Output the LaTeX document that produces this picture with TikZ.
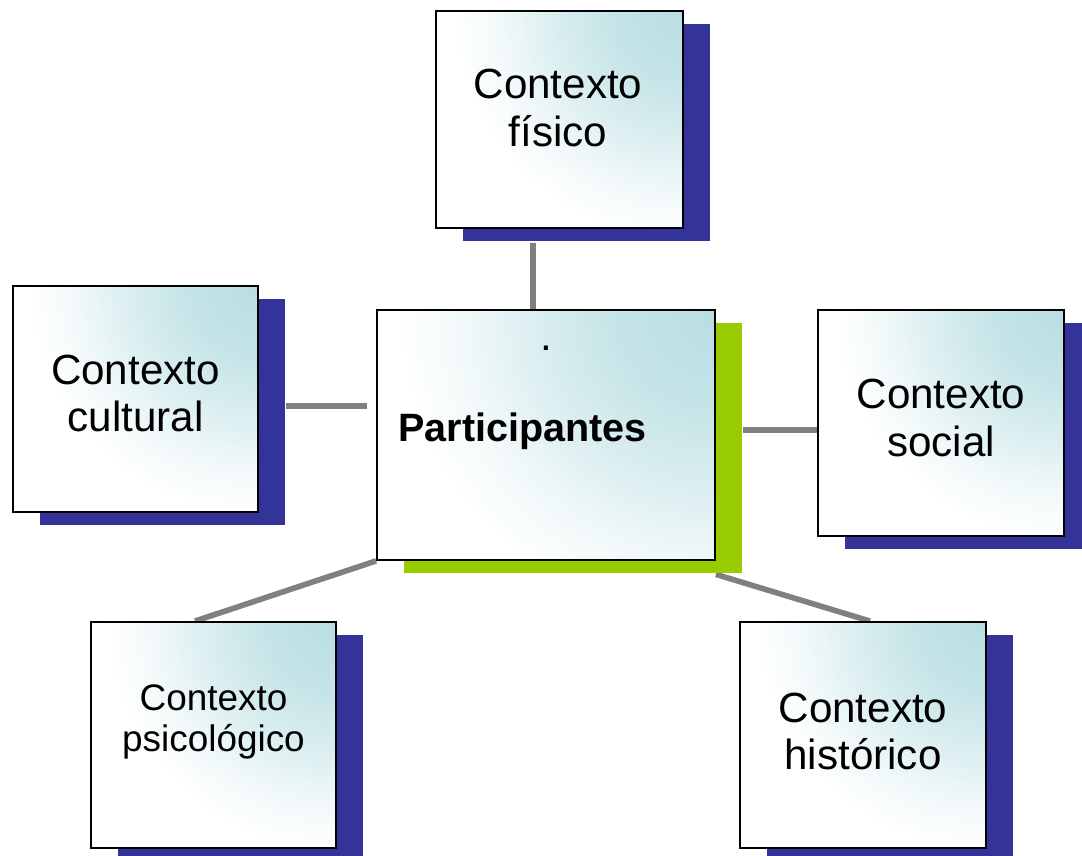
\documentclass[tikz,border=0pt]{standalone}
\usepackage{fontspec}
\setmainfont{Liberation Sans}
\usetikzlibrary{shadows,backgrounds}
\definecolor{boxcyan}{RGB}{184,222,226}
\definecolor{shadeblue}{RGB}{51,51,153}
\definecolor{shadegreen}{RGB}{153,204,0}
\definecolor{linkgray}{RGB}{128,128,128}
\pgfdeclareradialshading{ctxfade}{\pgfpoint{0bp}{0bp}}{color(0bp)=(boxcyan); color(4bp)=(boxcyan!82!white);
  color(7.5bp)=(boxcyan!50!white); color(10.5bp)=(boxcyan!18!white); color(13bp)=(white); color(50bp)=(white)}
\tikzset{
  ctxbox/.style={draw=black, fill=white, line width=1pt, inner sep=0pt,
    minimum width=4.9cm, minimum height=4.52cm,
    path picture={\shade[shading=ctxfade]
      ([shift={(-#1,-#1)}]path picture bounding box.north east) rectangle
      ([shift={(#1,#1)}]path picture bounding box.north east);}},
  ctxbox/.default=8.8cm,
  blueshadow/.style={drop shadow={shadow xshift=0.54cm, shadow yshift=-0.27cm, fill=shadeblue, opacity=1}},
  greenshadow/.style={drop shadow={shadow xshift=0.54cm, shadow yshift=-0.27cm, fill=shadegreen, opacity=1}},
  txt/.style={align=center, inner sep=0pt, font=\fontsize{24}{27}\selectfont},
  link/.style={draw=linkgray, line width=3.2pt}
}
\begin{document}
\begin{tikzpicture}
	\useasboundingbox (0,0) rectangle (21.64,17.12);
	% boxes
	\node[ctxbox, blueshadow, minimum width=4.94cm, minimum height=4.34cm] (fis) at (11.19,14.73) {};
	\node[ctxbox, blueshadow] (cult) at (2.71,9.14) {};
	\node[ctxbox=12.2cm, greenshadow, minimum width=6.76cm, minimum height=5cm] (part) at (10.92,8.42) {};
	\node[ctxbox, blueshadow, minimum width=4.92cm] (soc) at (18.82,8.66) {};
	\node[ctxbox, blueshadow] (psi) at (4.27,2.42) {};
	\node[ctxbox, blueshadow, minimum width=4.92cm] (hist) at (17.26,2.42) {};
	% texts
	\node[txt] (fis-t) at (11.16,14.96) {Contexto\\físico};
	\node[txt] (cult-t) at (2.71,9.25) {Contexto\\cultural};
	\node[txt] (part-dot) at (10.92,10.16) {.};
	\node[txt, font=\fontsize{22.5}{26}\selectfont\bfseries] (part-t) at (10.45,8.5) {Participantes};
	\node[txt] (soc-t) at (18.82,8.76) {Contexto\\social};
	\node[txt, font=\fontsize{21}{23}\selectfont] (psi-t) at (4.27,2.68) {Contexto\\psicológico};
	\node[txt] (hist-t) at (17.26,2.49) {Contexto\\histórico};
	% connectors
	\begin{scope}[on background layer]
		\draw[link] ([xshift=-0.53cm, yshift=-0.28cm]fis.south) -- ([xshift=-0.26cm]part.north);
		\draw[link] ([shift={(0.54cm,-0.14cm)}]cult.east) -- ([shift={(-0.18cm,0.58cm)}]part.west);
		\draw[link] ([shift={(0.54cm,0.1cm)}]part.east) -- ([yshift=-0.14cm]soc.west);
		\draw[link] (part.south west) -- ([xshift=-0.37cm]psi.north);
		\draw[link] ([yshift=-0.27cm]part.south east) -- ([xshift=0.14cm]hist.north);
	\end{scope}
\end{tikzpicture}
\end{document}
